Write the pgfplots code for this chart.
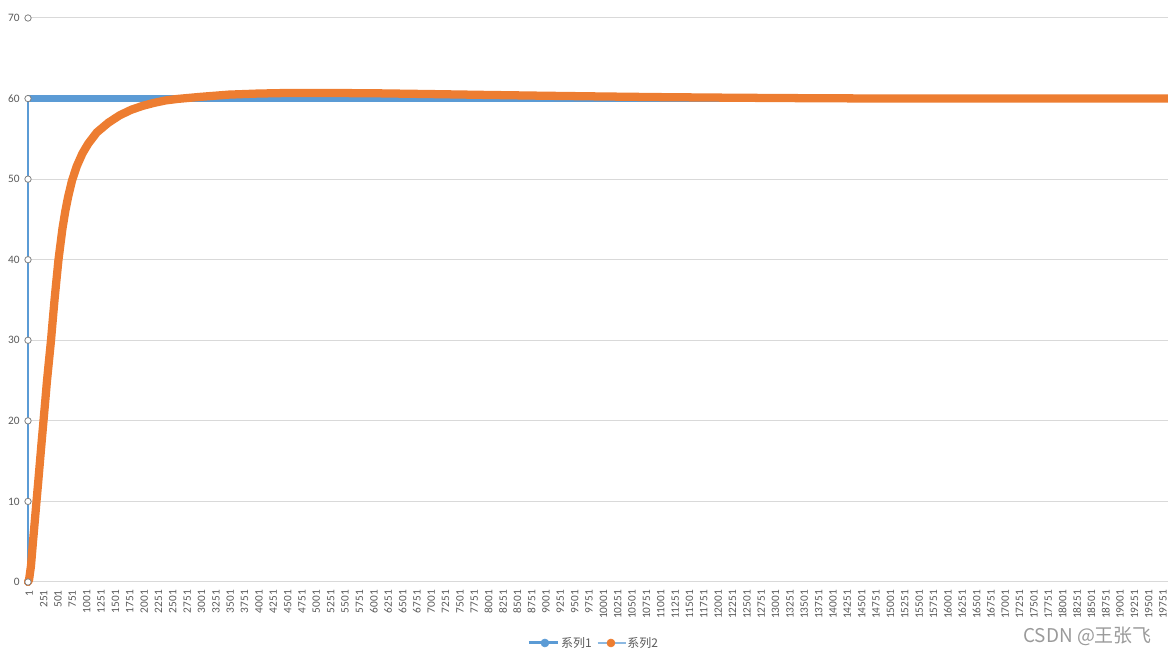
\documentclass[border=0pt]{standalone}
\usepackage{fontspec}
\setmainfont{Carlito}
\newfontfamily\cjk{Noto Sans CJK SC}
\usepackage{pgfplots}
\pgfplotsset{compat=1.18}
\definecolor{c1}{HTML}{5B9BD5}
\definecolor{c2}{HTML}{ED7D31}
\definecolor{gridc}{HTML}{D9D9D9}
\definecolor{txt}{HTML}{595959}
\definecolor{ring}{HTML}{808080}
\definecolor{wm}{HTML}{9A9A9A}
\begin{document}
\begin{tikzpicture}
\begin{axis}[
 scale only axis, width=855pt, height=423pt,
 xmin=1, xmax=19860, ymin=0, ymax=70,
 clip=false,
 axis line style={draw=none},
 ymajorgrids, grid style={gridc, line width=0.75pt},
 ytick={0,10,...,70},
 xtick={1,251,...,19751},
 major tick length=0pt,
 tick style={draw=none},
 scaled x ticks=false,
 /pgf/number format/assume math mode=true,
 xticklabel style={yshift=-6pt, xshift=1pt, rotate=90, anchor=east, inner sep=0pt,
   font=\fontsize{8.5}{9}\selectfont, text=txt,
   /pgf/number format/fixed, /pgf/number format/1000 sep={}, /pgf/number format/precision=0},
 yticklabel style={anchor=east, inner sep=0pt, xshift=-6pt,
   font=\fontsize{8.5}{9}\selectfont, text=txt},
 legend style={draw=none, fill=none, at={(0.496,0)}, anchor=center, yshift=-45.75pt,
   legend columns=2, font=\cjk\fontsize{9}{10}\selectfont, text=txt,
   inner sep=0pt, nodes={inner sep=1pt},
   /tikz/every even column/.append style={column sep=3pt}},
]
% series 1: step to 60
\addplot[c1, line width=1.5pt, forget plot] coordinates {(1,0) (1,60)};
\addplot[c1, line width=5.6pt, line cap=butt, forget plot] coordinates {(1,60) (19860,60)};
% series 2: response
\addplot[c2, line width=6.2pt, line cap=round, line join=round, forget plot] table {
x y
1 0
20 0.3
53 2
88 5
120 7.6
149 10
180 12.5
210 15
240 17.5
271 20
302 22.5
332 25
367 27.5
402 30
432 32.5
463 35
497 37.5
532 40
600 43.8
650 46.0
700 47.8
767 49.8
850 51.6
950 53.2
1050 54.4
1200 55.8
1400 57.0
1600 57.93
1800 58.61
2000 59.1
2200 59.47
2400 59.77
2600 59.95
3000 60.21
3500 60.49
4000 60.62
4500 60.69
5000 60.7
6000 60.66
7000 60.56
8000 60.45
9000 60.35
10000 60.26
11000 60.18
12000 60.12
13000 60.07
14000 60.03
15000 60.01
19860 60.0
};
% y-axis ring markers
\addplot[only marks, mark=*, mark size=2.4pt, mark options={fill=white, draw=ring, line width=0.6pt}, forget plot]
 coordinates {(1,0) (1,10) (1,20) (1,30) (1,40) (1,50) (1,60) (1,70)};
\addlegendimage{legend image code/.code={\draw[c1, line width=2.25pt] (0pt,0pt) -- (22pt,0pt); \fill[c1] (12pt,0pt) circle (3pt);}}
\addlegendentry{系列1}
\addlegendimage{legend image code/.code={\draw[c1!70, line width=0.8pt] (0pt,0pt) -- (21pt,0pt); \fill[c2] (10pt,0pt) circle (3pt);}}
\addlegendentry{系列2}
\end{axis}
\node[anchor=east, text=wm, font=\cjk\fontsize{14.2}{16}\selectfont, inner sep=0pt] at (843pt,-40.5pt) {CSDN @王张飞};
\pgfresetboundingbox
\useasboundingbox (-21pt,-54.75pt) rectangle (855pt,436.5pt);
\end{tikzpicture}
\end{document}
